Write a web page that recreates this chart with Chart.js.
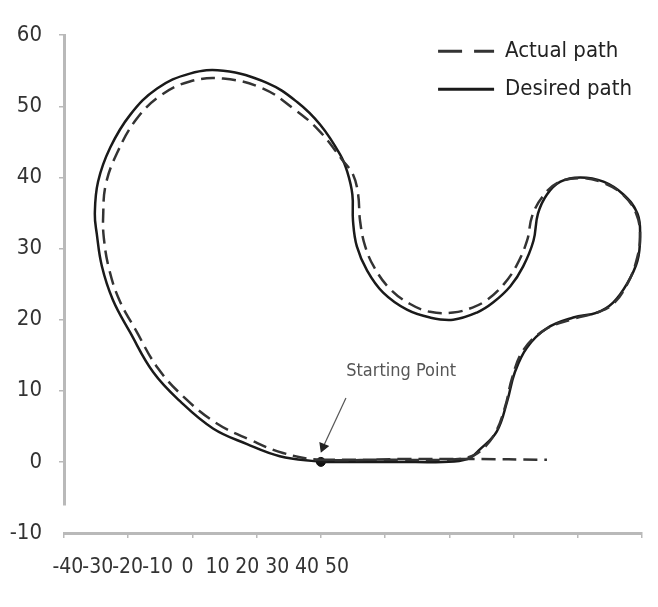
<!DOCTYPE html>
<html>
<head>
<meta charset="utf-8">
<script src="https://cdn.jsdelivr.net/npm/chart.js@4"></script>
<style>
  body { margin: 0; background: #fff; }
  #chart { display: block; }
</style>
</head>
<body>
<canvas id="chart" width="658" height="607"></canvas>
<script>
// Desired path (solid), starting at the origin
var desiredX = [0, 12.3, 19, 22.8, 24.8, 27.4, 29, 30.2, 32.1, 35.2, 39.3, 43, 45.5, 47.7, 49.3, 49.7, 49.3, 47.1, 44, 40.4, 37.3, 35.2, 33.8, 33.1, 31.5, 29.5, 26.8, 24.3, 20.6, 17, 13.4, 9.7, 7.2, 5.6, 5, 4.9, 4.1, 3, -0.1, -3.7, -8.4, -15.2, -20.4, -25.5, -29.7, -32.8, -34.7, -35.2, -34.9, -34.1, -32.4, -29.7, -26.1, -21.9, -16.8, -11.5, -6.4, 0];
var desiredY = [0, 0, 0, 0.4, 1.8, 4.3, 8.5, 12.6, 16.1, 18.8, 20.3, 21, 22.4, 25.1, 28.3, 31.7, 34.9, 37.6, 39.4, 40, 39.4, 37.6, 34.9, 31.1, 27.5, 24.7, 22.4, 21, 20, 20.3, 21.4, 23.8, 26.9, 30.3, 33.9, 37.6, 40.8, 43.2, 47.4, 50.6, 53.3, 55, 54.6, 52.5, 48.8, 44.2, 39.4, 34.9, 32.1, 27.5, 22.8, 18.2, 12.6, 8.5, 4.7, 2.5, 0.8, 0];

// Actual path (dashed)
var actualX = [0, 12.3, 19, 22.8, 24.8, 27.1, 28.7, 29.8, 31.5, 34.9, 39.3, 43, 45.5, 47.7, 49.1, 49.7, 49.1, 47, 43.8, 40.4, 37, 34.6, 32.9, 32.1, 30.4, 28.4, 25.9, 23.6, 20.6, 17, 13.9, 10.8, 8.4, 6.9, 6.1, 5.8, 5, 3.3, -0.4, -4.3, -9, -15.2, -20.4, -25, -28.8, -31.7, -33.5, -33.9, -33.8, -33, -31.4, -28.8, -25.4, -21.2, -16.2, -11, -5.9, 0, 12.3, 23.2, 35.2];
var actualY = [0.3, 0.3, 0.3, 0.6, 1.5, 4, 7.8, 11.9, 15.7, 18.6, 20.1, 21, 22.2, 25, 28.2, 31.7, 34.9, 37.6, 39.3, 39.9, 39.3, 37.4, 34.6, 31.1, 27.5, 24.9, 22.8, 21.7, 21, 21.1, 22.2, 24.3, 27.2, 30.3, 33.9, 37.6, 40.4, 42.5, 46.7, 49.7, 52.5, 53.9, 53.5, 51.5, 48.1, 43.5, 39, 34.6, 31.5, 27.2, 22.8, 18.5, 13.2, 9, 5.4, 3.1, 1.25, 0.3, 0.4, 0.4, 0.3];

// Tick labels
var xTicks = [-40, -30, -20, -10, 0, 10, 20, 30, 40, 50];
var yTicks = [0, 10, 20, 30, 40, 50, 60];
var yLowTicks = [-10];

// Starting point callout
var startPoint = [0, 0];
var arrowTail = [3.9, 9.0];
var arrowTip = [0.35, 2.1];
var calloutAt = [12.5, 12.8];
var calloutText = 'Starting Point';

function toPoints(xs, ys) {
    return xs.map(function(x, i) { return {x: x, y: ys[i]}; });
}
function setTicks(values) {
    return function(scale) {
        scale.ticks = values.map(function(v) { return {value: v}; });
    };
}

var font = "'DejaVu Sans Condensed', 'DejaVu Sans', sans-serif";
var axisGray = '#b9b9b9';

// Legend sits inside the plot, top right
var legendRight = {
    id: 'legendRight',
    afterLayout: function(chart) {
        var l = chart.legend, a = chart.chartArea;
        l.left = a.right - l.width;
        l.right = a.right;
        l.top = a.top - 11;
    }
};

// "Starting Point" text
var callout = {
    id: 'callout',
    afterDatasetsDraw: function(chart) {
        var ctx = chart.ctx, sx = chart.scales.x, sy = chart.scales.y;
        ctx.save();
        ctx.font = '18px ' + font;
        ctx.fillStyle = '#555';
        ctx.textAlign = 'center';
        ctx.textBaseline = 'middle';
        ctx.fillText(calloutText, sx.getPixelForValue(calloutAt[0]), sy.getPixelForValue(calloutAt[1]));
        ctx.restore();
    }
};

var chart = new Chart(document.getElementById('chart'), {
    type: 'scatter',
    data: {
        datasets: [{
            label: 'Actual path',
            data: toPoints(actualX, actualY),
            showLine: true,
            borderColor: '#333',
            borderWidth: 2.5,
            borderDash: [14, 7],
            pointRadius: 0,
            tension: 0.4
        }, {
            label: 'Desired path',
            data: toPoints(desiredX, desiredY),
            showLine: true,
            borderColor: '#1a1a1a',
            borderWidth: 2.5,
            pointRadius: 0,
            tension: 0.4
        }, {
            label: 'arrow',
            data: [{x: arrowTail[0], y: arrowTail[1]}, {x: arrowTip[0], y: arrowTip[1]}],
            showLine: true,
            borderColor: '#555',
            borderWidth: 1.2,
            pointRadius: [0, 5],
            pointStyle: 'triangle',
            pointRotation: [0, 202],
            pointBackgroundColor: '#222',
            pointBorderColor: '#222'
        }, {
            label: 'start',
            data: [{x: startPoint[0], y: startPoint[1]}],
            pointRadius: 4.5,
            pointBackgroundColor: '#111',
            pointBorderColor: '#111'
        }]
    },
    options: {
        responsive: false,
        animation: false,
        layout: { padding: { top: 16, right: 16, bottom: 18, left: 0 } },
        plugins: {
            legend: {
                position: 'chartArea',
                align: 'start',
                labels: {
                    usePointStyle: true,
                    pointStyle: 'line',
                    pointStyleWidth: 56,
                    padding: 16,
                    color: '#222',
                    font: { family: font, size: 22 },
                    filter: function(item) { return item.datasetIndex < 2; },
                    generateLabels: function(chart) {
                        var items = Chart.defaults.plugins.legend.labels.generateLabels(chart);
                        items.forEach(function(it) {
                            var ds = chart.data.datasets[it.datasetIndex];
                            it.strokeStyle = ds.borderColor;
                            it.lineWidth = 3;
                            it.lineDash = ds.borderDash ? [24, 12] : [];
                        });
                        return items;
                    }
                }
            },
            tooltip: { enabled: false }
        },
        scales: {
            x: {
                type: 'linear',
                position: 'bottom',
                min: -40,
                max: 50,
                afterBuildTicks: setTicks(xTicks),
                ticks: { display: false },
                grid: { drawOnChartArea: false, color: axisGray, lineWidth: 1.5, tickLength: 5 },
                border: { color: axisGray, width: 3 },
                afterFit: function(s) { s.height = 6; }
            },
            x2: {
                type: 'linear',
                position: 'bottom',
                min: -41.3,
                max: 152,
                afterBuildTicks: setTicks(xTicks),
                grid: { display: false, drawTicks: false },
                border: { display: false },
                ticks: { autoSkip: false, maxRotation: 0, minRotation: 0, padding: 16, color: '#333', font: { family: font, size: 21 } },
                afterFit: function(s) { s.height = 50; }
            },
            y: {
                type: 'linear',
                position: 'left',
                stack: 'left',
                stackWeight: 66,
                weight: 1,
                min: -6,
                max: 60,
                afterBuildTicks: setTicks(yTicks),
                ticks: { padding: 17, color: '#333', font: { family: font, size: 22 } },
                grid: { drawOnChartArea: false, color: axisGray, lineWidth: 1.5, tickLength: 5 },
                border: { color: axisGray, width: 3 },
                afterFit: function(s) { s.width = 64; }
            },
            y2: {
                type: 'linear',
                position: 'left',
                stack: 'left',
                stackWeight: 4,
                weight: 0,
                min: -10,
                max: -6,
                afterBuildTicks: setTicks(yLowTicks),
                ticks: { padding: 22, color: '#333', font: { family: font, size: 22 } },
                grid: { display: false, drawTicks: false },
                border: { display: false },
                afterFit: function(s) { s.width = 64; }
            }
        }
    },
    plugins: [legendRight, callout]
});
</script>
</body>
</html>
